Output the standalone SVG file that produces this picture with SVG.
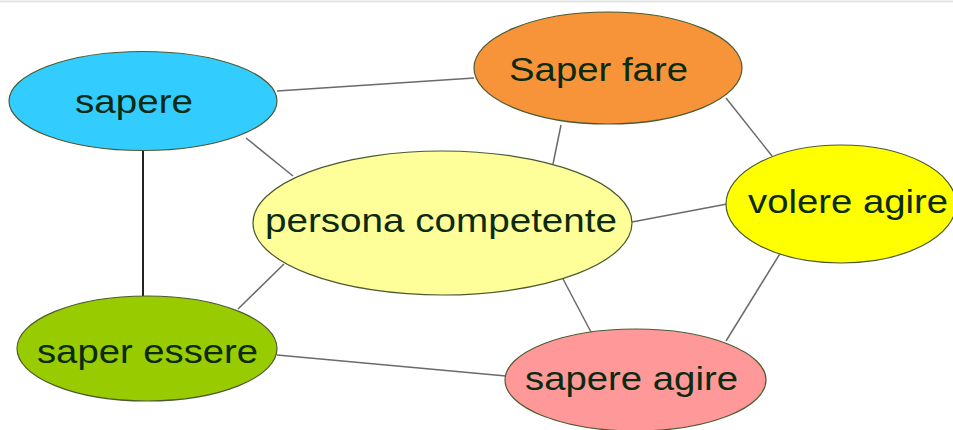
<svg xmlns="http://www.w3.org/2000/svg" width="953" height="430" viewBox="0 0 953 430">
<style>
.n{stroke:#4b5a30;stroke-width:1.2}
.t{font-family:"Liberation Sans",Arial,sans-serif;font-size:34px;fill:#0b2a10}
.e line{stroke:#6a6a6a;stroke-width:1.5}
</style>
<rect width="953" height="430" fill="#fff"/>
<line x1="0" y1="1.5" x2="953" y2="1.5" stroke="#e2e2e2" stroke-width="2"/>
<g class="e">
<line x1="277" y1="91" x2="474" y2="78"/>
<line x1="246" y1="138" x2="293" y2="176"/>
<line x1="143" y1="151" x2="143" y2="296" style="stroke:#222;stroke-width:2"/>
<line x1="561" y1="125" x2="553" y2="164"/>
<line x1="726" y1="98" x2="772" y2="156"/>
<line x1="632" y1="222" x2="727" y2="204"/>
<line x1="284" y1="264" x2="238" y2="309"/>
<line x1="562" y1="277" x2="592" y2="334"/>
<line x1="781" y1="252" x2="726" y2="341"/>
<line x1="277" y1="355" x2="506" y2="376"/>
</g>
<g id="sapere"><ellipse class="n" cx="143" cy="101" rx="134" ry="49.5" fill="#33ccff"/><text class="t" x="75" y="113" textLength="118" lengthAdjust="spacingAndGlyphs">sapere</text></g>
<g id="saper-fare"><ellipse class="n" cx="608" cy="68" rx="134" ry="56" fill="#f7943a"/><text class="t" x="509" y="81" textLength="179" lengthAdjust="spacingAndGlyphs">Saper fare</text></g>
<g id="volere-agire"><ellipse class="n" cx="841" cy="204" rx="115" ry="59" fill="#ffff00"/><text class="t" x="748" y="213" textLength="200" lengthAdjust="spacingAndGlyphs">volere agire</text></g>
<g id="persona-competente"><ellipse class="n" cx="442.5" cy="223" rx="189.5" ry="72" fill="#ffff99"/><text class="t" x="265" y="232" textLength="352" lengthAdjust="spacingAndGlyphs">persona competente</text></g>
<g id="saper-essere"><ellipse class="n" cx="147" cy="348.5" rx="130" ry="52.5" fill="#99cc00"/><text class="t" x="37" y="363" textLength="221" lengthAdjust="spacingAndGlyphs">saper essere</text></g>
<g id="sapere-agire"><ellipse class="n" cx="635.5" cy="380" rx="130.5" ry="51" fill="#ff9999"/><text class="t" x="525" y="390" textLength="213" lengthAdjust="spacingAndGlyphs">sapere agire</text></g>
</svg>
